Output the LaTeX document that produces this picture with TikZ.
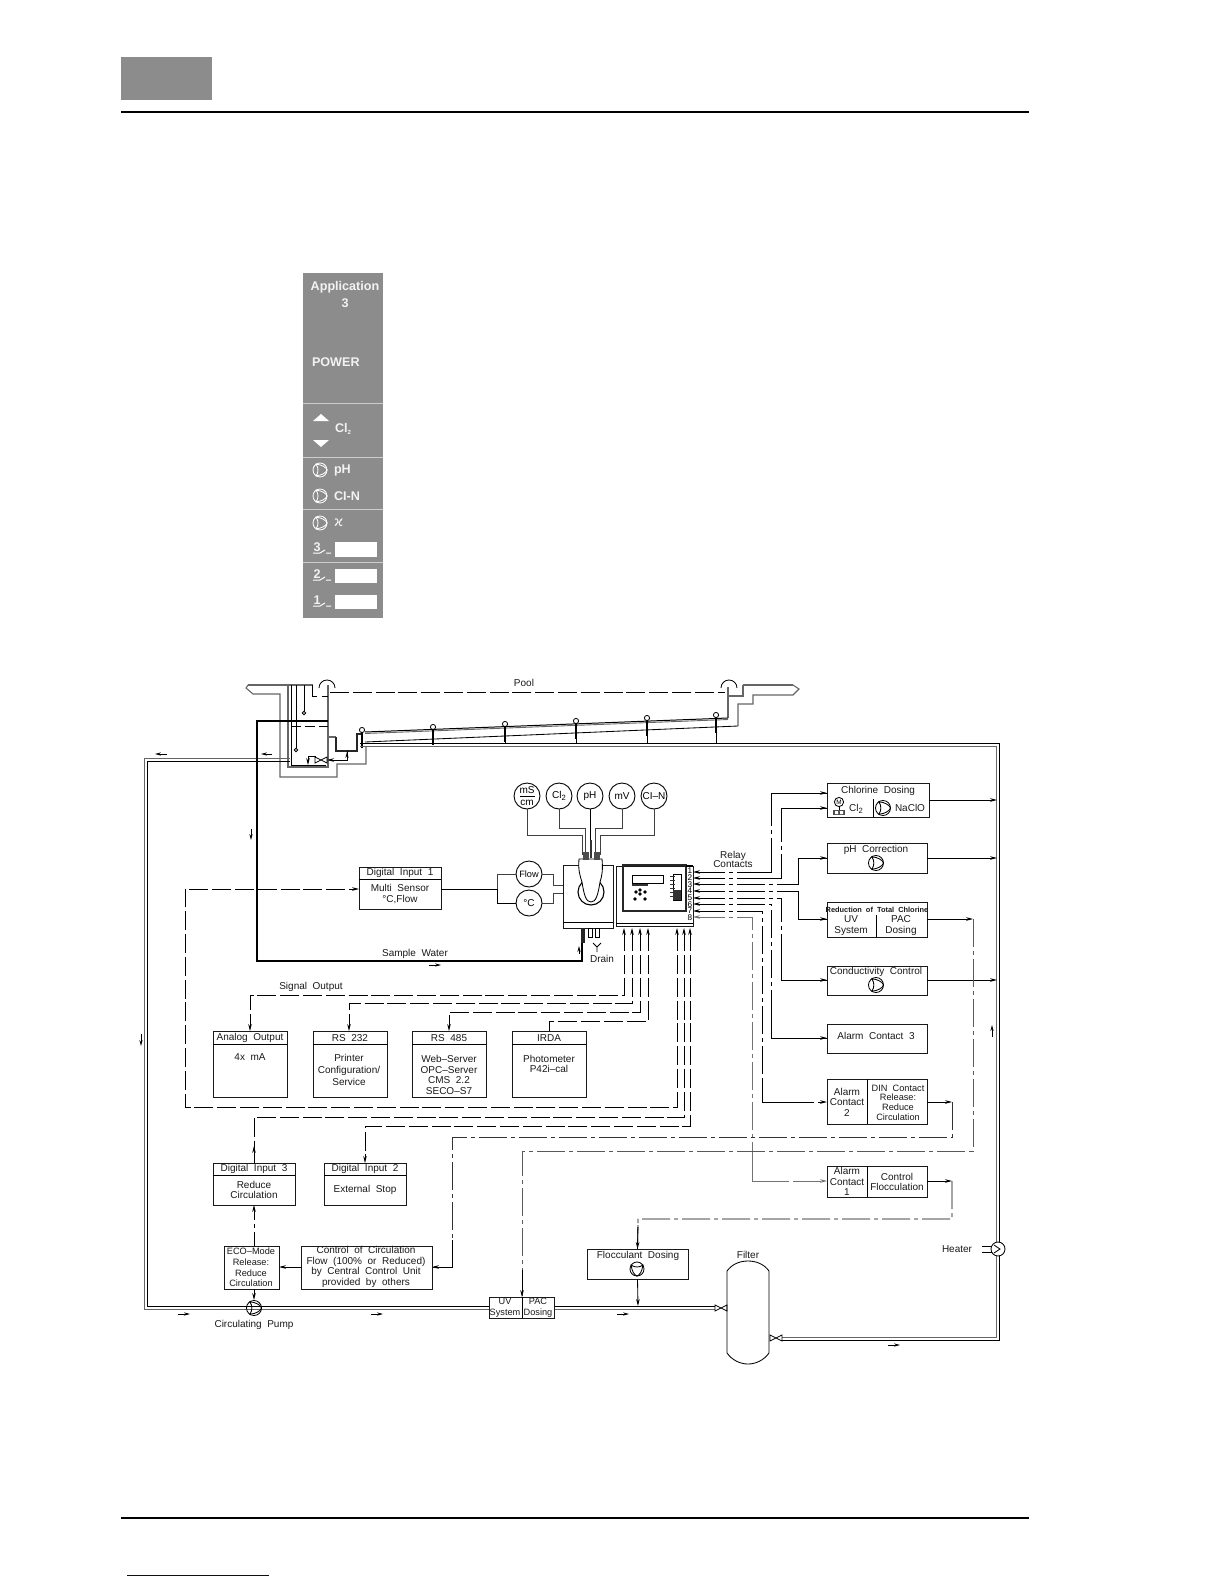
\documentclass[tikz,border=0pt]{standalone}
\usepackage{fontspec}
\setmainfont[WordSpace=2]{Liberation Sans}
\newfontfamily\plainsans{Liberation Sans}
\newfontfamily\symfont{DejaVu Sans}
\usetikzlibrary{arrows.meta}
\tikzset{
  x=0.5pt,y=-0.5pt,
  every node/.style={inner sep=0pt,outer sep=0pt},
  ln/.style={line width=0.42pt,black},
  boxst/.style={draw,line width=0.45pt,black!90},
  lab/.style={font=\fontsize{5}{5.3}\selectfont,align=center,text=black!90},
  smalllab/.style={lab,font=\fontsize{4.6}{5.3}\selectfont},
  panlab/.style={font=\plainsans\fontsize{6.3}{7}\selectfont\bfseries,text=white!95!black},
  tip/.style={-{Stealth[length=3.5pt,width=1.8pt]}},
  tips/.style={{Stealth[length=3.5pt,width=1.8pt]}-{Stealth[length=3.5pt,width=1.8pt]}},
  backtip/.style={{Stealth[length=3.5pt,width=1.8pt]}-},
  dsh/.style={ln,dash pattern=on 9.5pt off 1.9pt},
  dd/.style={ln,dash pattern=on 14pt off 2pt on 2pt off 2pt},
  dd2/.style={ln,dash pattern=on 7pt off 2pt on 2pt off 2pt},
  flow/.style={line width=0.4pt,-{Stealth[length=3pt,width=1.6pt]}},
  pipeA/.style={line width=0.5pt,black!60},
  pipeB/.style={line width=0.45pt,black},
  wall/.style={line width=0.55pt,black!60},
  thickln/.style={line width=1.25pt,black},
}
\newcommand{\bx}[5]{\node[boxst,minimum width={(#4-#2)*0.5pt},minimum height={(#5-#3)*0.5pt}] (#1) at ({(#2+#4)/2},{(#3+#5)/2}) {};}
\newcommand{\lb}[4]{\node[lab] (#1) at (#2,#3) {#4};}
% centre x, centre y, radius, rotation, colour
\newcommand{\pumpicon}[5]{\begin{scope}[shift={(#1,#2)},rotate=#4,#5,line width=0.42pt]
  \draw (0,0) circle[radius=#3];
  \draw ({-0.55*#3},{-0.83*#3}) .. controls ({0.3*#3},{-0.75*#3}) and ({0.85*#3},{-0.4*#3}) .. ({#3},0) .. controls ({0.85*#3},{0.4*#3}) and ({0.3*#3},{0.75*#3}) .. ({-0.55*#3},{0.83*#3}) .. controls ({-0.2*#3},{0.3*#3}) and ({-0.2*#3},{-0.3*#3}) .. cycle;
\end{scope}}
\newcommand{\sbowtie}[2]{\draw[line width=0.4pt] ({#1-6},{#2-3}) -- ({#1+6},{#2+3}) -- ({#1+6},{#2-3}) -- ({#1-6},{#2+3}) -- cycle;}
\begin{document}
\begin{tikzpicture}
\useasboundingbox (0,0) rectangle (1224,1584);
% page furniture
\fill[black!45] (121,57) rectangle (212,100);
\draw[line width=1pt] (121,112) -- (1029,112);
\draw[line width=1pt] (121,1518) -- (1029,1518);
\draw[line width=0.5pt,blue!50!black] (127,1575) -- (269,1575);
% front panel
\fill[black!45] (303,273) rectangle (383,618);
\foreach \yy in {403,457,509,562} \draw[white!80!black,line width=0.5pt] (303,\yy) -- (383,\yy);
\node[panlab] (pApp) at (345,287) {Application};
\node[panlab] (pThree) at (345,303) {3};
\node[panlab,anchor=west] (pPower) at (312,362) {POWER};
\fill[white] (313,421) -- (329,421) -- (321,414) -- cycle;
\fill[white] (313,440) -- (329,440) -- (321,447) -- cycle;
\node[panlab,anchor=west] (pCl) at (335,429) {Cl\raisebox{-1pt}{\fontsize{3}{3}\selectfont 2}};
\pumpicon{320}{470}{7}{0}{white}
\node[panlab,anchor=west] (pPh) at (334,470) {pH};
\pumpicon{320}{496}{7}{0}{white}
\node[panlab,anchor=west] (pCln) at (334,496) {CI-N};
\pumpicon{320}{523}{7}{0}{white}
\node[panlab,anchor=west,font=\symfont\fontsize{7}{7}\selectfont] (pKappa) at (334,523) {ϰ};
\foreach \nn/\yy in {3/547,2/574,1/600}{
  \node[panlab] (pN\nn) at (317,\yy) {\nn};
  \draw[white,line width=0.5pt] (313,{\yy+6}) -- (320,{\yy+6}) -- (325,{\yy+3}) (326,{\yy+6}) -- (331,{\yy+6});
}
\fill[white] (335,542) rectangle (377,557);
\fill[white] (335,569) rectangle (377,583);
\fill[white] (335,595) rectangle (377,609);
% --- pool structure
\draw[wall,line width=1pt] (248,685) -- (313,685);
\draw[wall] (248,685) -- (246,688) -- (253,694) -- (280,694) -- (280,777) -- (337,777) -- (337,764) -- (366,764) -- (366,746);
\draw[wall] (288,685) -- (288,767) -- (328,767) -- (328,685);
\draw[ln] (291,685) -- (291,765) -- (326,765);
\draw[ln] (312,685) -- (312,696) -- (317,696);
\draw[ln] (322,696) -- (328,696);
\draw[ln] (319,688) arc[start angle=180,end angle=360,radius=8];
\draw[ln] (721,688) arc[start angle=180,end angle=360,radius=8];
\coordinate (wL) at (330,692); \coordinate (wR) at (725,692);
\draw[dsh] (wL) -- (wR);
\lb{pool}{524}{683}{Pool}
\draw[ln,dash pattern=on 5pt off 2pt] (291,726) -- (328,726);
\draw[ln] (296,685) -- (296,748);
\draw[ln] (296,750) circle[radius=1.7];
\draw[ln] (304,685) -- (304,711);
\draw[ln] (304,713) circle[radius=1.7];
\sbowtie{321}{760}
\draw[ln] (316,756) -- (308,756);
\draw[ln,tip] (308,756) -- (308,765);
% pipe to the tank and to the valve
\draw[wall] (329,737) -- (336,737);
\draw[line width=0.7pt,black!85] (336,737) -- (336,751) -- (357,751) -- (357,734) -- (362,734);
\coordinate (vIn) at (327,760);
\draw[ln,tip] (347,751) -- (347,760) -- (vIn);
% right pool edge
\draw[wall,line width=0.8pt] (728,687) -- (728,718);
\draw[wall] (728,696) -- (743,696) -- (743,685);
\draw[wall,line width=1pt] (743,685) -- (793,685);
\draw[wall] (793,685) -- (799,689) -- (793,695) -- (753,695) -- (753,704) -- (738,704) -- (738,726);
% pool floor
\draw[line width=0.5pt,black] (365,732) -- (728,718);
\draw[ln] (365,742) -- (738,726);
\draw[wall,line width=0.45pt] (365,733.5) -- (728,719.5);
\foreach \xx/\yy in {362/730,433/727,505/724,576/721,647/718,716/715}{
  \draw[ln] (\xx,\yy) circle[radius=2.6];
  \draw[line width=1pt,black] (\xx,{\yy+3}) -- (\xx,{\yy+18});
  \draw[ln] (\xx,{\yy+15}) -- (\xx,744);
}
% main pipe
\coordinate (vOutA) at (782,1340.5); \coordinate (vOutB) at (782,1337);
\coordinate (tankA) at (290,758.5); \coordinate (tankB) at (290,761.5);
\draw[pipeB] (vOutA) -- (999.5,1340.5) -- (999.5,743.5) -- (360,743.5);
\draw[pipeA] (vOutB) -- (996.5,1337) -- (996.5,746.5) -- (360,746.5);
\draw[pipeA] (tankA) -- (144.5,758.5) -- (144.5,1309.5) -- (489,1309.5);
\draw[pipeB] (tankB) -- (147.5,761.5) -- (147.5,1306.5) -- (489,1306.5);
\draw[pipeA] (554,1309.5) -- (715,1309.5);
\draw[pipeB] (554,1306.5) -- (715,1306.5);
\sbowtie{721}{1308}
\sbowtie{776}{1338}
% filter
\draw[ln] (727,1271) .. controls (732,1264) and (740,1261) .. (748,1261) .. controls (756,1261) and (764,1264) .. (769,1271) -- (769,1353) .. controls (764,1360) and (756,1364) .. (748,1364) .. controls (740,1364) and (732,1360) .. (727,1353) -- cycle;
\lb{filterL}{748}{1255}{Filter}
% heater
\draw[ln,fill=white] (998,1249) circle[radius=7];
\draw[ln] (994,1245) -- (1000,1249) -- (994,1253);
\draw[ln] (982,1246) -- (992,1246) (982,1252) -- (992,1252);
\lb{heaterL}{957}{1249}{Heater}
% flow direction arrows
\draw[flow] (167,754) -- (155,754);
\draw[flow] (272,754) -- (261,754);
\draw[flow] (251,829) -- (251,840);
\draw[flow] (429,965) -- (441,965);
\draw[flow] (141,1034) -- (141,1046);
\draw[flow] (178,1314) -- (190,1314);
\draw[flow] (371,1314) -- (383,1314);
\draw[flow] (617,1314) -- (629,1314);
\draw[flow] (888,1345) -- (900,1345);
\draw[flow] (992,1037) -- (992,1025);
\draw[flow] (347,758) -- (347,752);
\draw[flow] (579,954) -- (579,946);
% sample water
\coordinate (sampleEnd) at (582,943);
\draw[thickln] (328,721) -- (257,721) -- (257,961) -- (582,961) -- (sampleEnd);
\lb{sampleL}{415}{954}{Sample Water}
% --- sensors
\foreach \nm/\xx/\tt in {sCl/559/Cl\raisebox{-0.8pt}{\fontsize{3.8}{4}\selectfont 2},spH/590/pH,smV/622/mV,sClN/654/CI--N}{
  \node[draw,circle,line width=0.45pt,minimum size=13pt,font=\fontsize{5}{5.3}\selectfont] (\nm) at (\xx,796) {\tt};
}
\node[draw,circle,line width=0.45pt,minimum size=13pt,align=center,font=\fontsize{5}{4.6}\selectfont] (smS) at (527,796) {\underline{mS}\\cm};
\node[draw,circle,line width=0.45pt,minimum size=13pt,font=\fontsize{4.6}{5.3}\selectfont] (sFlow) at (529,874) {Flow};
\node[draw,circle,line width=0.45pt,minimum size=13pt,font=\fontsize{5}{5.3}\selectfont] (sDeg) at (529,903) {°C};
\draw[ln,black!75] (smS.south) -- (527,835) -- (582,835) -- (582,855);
\draw[ln,black!75] (sCl.south) -- (559,828) -- (585,828) -- (585,855);
\draw[ln] (spH.south) -- (590,842);
\draw[ln,black!75] (smV.south) -- (622,828) -- (595,828) -- (595,855);
\draw[ln,black!75] (sClN.south) -- (654,835) -- (600,835) -- (600,855);
% sensor housing
\bx{probe}{563}{865}{613}{928}
\draw[ln] (563,922) -- (613,922);
\draw[line width=0.55pt] (591,892) circle[radius=13];
\draw[ln,fill=white] (579,859) -- (602,859) .. controls (603,870) and (602,876) .. (600,882) .. controls (598,895) and (596,902) .. (591,902) .. controls (586,902) and (584,895) .. (582,882) .. controls (580,876) and (578,870) .. (579,859) -- cycle;
\draw[line width=1.4pt,black!80] (591,840) -- (591,858);
\fill[black!70] (583,852) rectangle (589,860);
\fill[black!70] (594,852) rectangle (600,860);
\draw[line width=1.6pt,black!85] (583,928) -- (583,943);
\draw[ln] (588,928) rectangle (592,937);
\draw[ln] (595,928) rectangle (599,937);
\draw[ln] (597,952) -- (597,947) (593,943) -- (597,947) -- (601,943);
\lb{drainL}{602}{959}{Drain}
% controller
\bx{ctrl}{616}{866}{693}{926}
\draw[ln] (616,923) -- (693,923);
\draw[line width=1pt,black!85] (623,865) rectangle (686,911);
\draw[ln] (632,875) rectangle (663,883);
\draw[line width=1pt,black!80] (632,885) -- (648,885);
\foreach \xx/\yy in {640/890,636/892,645/892,640/894,635/899,645/899} \fill (\xx,\yy) circle[radius=1.9];
\draw[ln] (673,874) rectangle (681,900);
\fill[black!80] (673,890) rectangle (681,900);
\foreach \yy in {876,880,884,888,892,896} \fill[black!80] (670,\yy) rectangle (675,{\yy+1});
\foreach \nn/\yy in {1/871,2/877.7,3/884.4,4/891,5/897.8,6/904.4,7/911,8/917.6}{
  \node[font=\fontsize{4.1}{4}\selectfont] (tn\nn) at (690,\yy) {\nn};
}
\draw[line width=0.9pt] (686,866) -- (693,866);
% relay terminals and signal terminals
\coordinate (r1) at (693,872); \coordinate (r2) at (693,878); \coordinate (r3) at (693,884); \coordinate (r4) at (693,891);
\coordinate (r5) at (693,898); \coordinate (r6) at (693,904); \coordinate (r7) at (693,911); \coordinate (r8) at (693,917);
\coordinate (t1) at (624,928); \coordinate (t2) at (632,928); \coordinate (t3) at (640,928); \coordinate (t4) at (648,928);
\coordinate (t5) at (677,928); \coordinate (t6) at (684,928); \coordinate (t7) at (690,928);
\lb{relayL}{733}{859.5}{Relay\\[-0.8pt]Contacts}
% right boxes
\bx{chlor}{827}{783}{929}{817}
\draw[ln] (873,799) -- (873,817);
\lb{chlorT}{878}{791}{Chlorine Dosing}
\draw[ln] (839,802) circle[radius=4.6];
\node[font=\fontsize{3.2}{3}\selectfont] (motorM) at (839,802) {M};
\fill[black!70] (833,810) rectangle (845,815);
\fill[white] (835,811) rectangle (838,814) (840,811) rectangle (843,814);
\draw[ln] (839,807) -- (839,810);
\lb{chlorCl}{856}{809}{Cl\raisebox{-0.8pt}{\fontsize{3.8}{4}\selectfont 2}}
\pumpicon{883}{808}{7.5}{0}{black}
\lb{chlorNa}{910}{808}{NaClO}
\bx{phc}{827}{843}{927}{873}
\lb{phcT}{876}{850}{pH Correction}
\pumpicon{876}{863}{7.5}{0}{black}
\bx{red}{827}{902}{927}{937}
\draw[ln] (876,915) -- (876,937);
\node[font=\fontsize{3.7}{5}\selectfont\bfseries,text=black!90] (redT) at (877,910) {Reduction of Total Chlorine};
\lb{redUV}{851}{925.5}{UV\\[0.2pt]System}
\lb{redPAC}{901}{925.5}{PAC\\[0.2pt]Dosing}
\bx{cond}{827}{966}{927}{995}
\lb{condT}{876}{972}{Conductivity Control}
\pumpicon{876}{985}{7.5}{0}{black}
\bx{al3}{827}{1024}{927}{1053}
\lb{al3T}{876}{1036}{Alarm Contact 3}
\bx{al2}{827}{1079}{927}{1124}
\draw[ln] (867,1079) -- (867,1124);
\lb{al2T}{847}{1102}{Alarm\\Contact\\2}
\node[smalllab] (dinT) at (898,1102.5) {DIN Contact\\[-0.5pt]Release:\\[-0.5pt]Reduce\\[-0.5pt]Circulation};
\bx{al1}{827}{1166}{927}{1197}
\draw[ln] (867,1166) -- (867,1197);
\lb{al1T}{847}{1181.5}{Alarm\\Contact\\1}
\lb{ctlF}{897}{1182}{Control\\Flocculation}
\bx{floc}{587}{1249}{688}{1279}
\lb{flocT}{638}{1256}{Flocculant Dosing}
\pumpicon{637}{1269}{7}{-90}{black}
% relay connectors
\coordinate (c1) at (827,793); \coordinate (c2) at (827,808); \coordinate (c3) at (827,858); \coordinate (c4) at (827,919);
\coordinate (c5) at (827,980); \coordinate (c6) at (827,1038); \coordinate (c7) at (827,1102); \coordinate (c8) at (827,1181);
\draw[dd,tips] (r1) -- (771,872) -- (771,793) -- (c1);
\draw[dd,tips] (r2) -- (781,878) -- (781,808) -- (c2);
\draw[dd,tips] (r3) -- (798,884) -- (798,858) -- (c3);
\draw[dd,tips] (r4) -- (798,891) -- (798,919) -- (c4);
\draw[dd,tips] (r5) -- (781,898) -- (781,980) -- (c5);
\draw[dd,tips] (r6) -- (771,904) -- (771,1038) -- (c6);
\draw[dd,tips] (r7) -- (762,911) -- (762,1102) -- (c7);
\draw[dd,tips,black!55] (r8) -- (752,917) -- (752,1181) -- (c8);
% solid runs near the corners of the relay connectors
\draw[ln] (745,872) -- (771,872) -- (771,855) (771,820) -- (771,793) -- (827,793);
\draw[ln] (750,878) -- (781,878) -- (781,860) (781,825) -- (781,808) -- (827,808);
\draw[ln] (798,884) -- (798,858) -- (827,858);
\draw[ln] (798,891) -- (798,919) -- (827,919);
\draw[ln] (781,950) -- (781,980) -- (827,980);
\draw[ln] (771,1010) -- (771,1038) -- (827,1038);
\draw[ln] (762,1080) -- (762,1102) -- (790,1102);
\draw[ln,black!55] (752,1160) -- (752,1181) -- (785,1181);
% outputs into the main pipe
\coordinate (m1) at (997,800); \coordinate (m2) at (997,858); \coordinate (m3) at (997,980);
\draw[ln,tip] (chlor.east |- m1) -- (m1);
\draw[ln,tip] (phc.east |- m2) -- (m2);
\draw[ln,tip] (cond.east |- m3) -- (m3);
% outputs to the lower lines
\coordinate (uvBoxTop) at (522,1297);
\coordinate (ctlIn) at (432,1267);
\draw[ln,tip] (927,919) -- (973,919);
\draw[dd,black!65] (973,919) -- (973,1151) -- (522,1151) -- (uvBoxTop);
\draw[ln,tip] (927,1102) -- (952,1102);
\draw[dd,black!80] (952,1102) -- (952,1137) -- (452,1137) -- (452,1267) -- (ctlIn);
\draw[ln,tip] (452,1240) -- (452,1267) -- (ctlIn);
\draw[ln,tip] (522,1270) -- (uvBoxTop);
\draw[ln,tip] (927,1181) -- (952,1181);
\draw[dd] (952,1181) -- (952,1219) -- (638,1219) -- (floc.north);
\draw[ln,tip] (638,1225) -- (floc.north);
\draw[ln,tip] (floc.south) -- (638,1306);
% communication boxes
\bx{ao}{213}{1031}{287}{1097}
\draw[ln] (213,1044) -- (287,1044);
\lb{aoT}{250}{1038}{Analog Output}
\lb{aoB}{250}{1057}{4x mA}
\bx{rsa}{313}{1031}{387}{1097}
\draw[ln] (313,1044) -- (387,1044);
\lb{rsaT}{350}{1038}{RS 232}
\lb{rsaB}{349}{1070}{Printer\\[0.5pt]Configuration/\\[0.5pt]Service}
\bx{rsb}{412}{1031}{486}{1097}
\draw[ln] (412,1044) -- (486,1044);
\lb{rsbT}{449}{1038}{RS 485}
\lb{rsbB}{449}{1075}{Web--Server\\OPC--Server\\CMS 2.2\\SECO--S7}
\bx{ir}{512}{1031}{586}{1097}
\draw[ln] (512,1044) -- (586,1044);
\lb{irT}{549}{1038}{IRDA}
\lb{irB}{549}{1064}{Photometer\\P42i--cal}
\lb{sigL}{311}{987}{Signal Output}
\draw[dsh,tips] (t1) -- (624,995) -- (250,995) -- (ao.north);
\draw[dsh,tips] (t2) -- (632,1003) -- (349,1003) -- (349,1031);
\draw[dsh,tips] (t3) -- (640,1012) -- (449,1012) -- (449,1031);
\draw[dsh,backtip] (t4) -- (648,1021) -- (549,1021) -- (549,1031);
% digital inputs
\bx{di1}{359}{867}{441}{909}
\draw[ln] (359,879) -- (441,879);
\lb{di1T}{400}{873}{Digital Input 1}
\lb{di1B}{400}{894}{Multi Sensor\\°C,Flow}
\draw[ln] (441,889) -- (497,889);
\draw[ln,black!75] (497,889) -- (497,874) -- (sFlow.west);
\draw[ln] (497,889) -- (497,903) -- (sDeg.west);
\draw[ln,black!75] (sFlow.east) -- (553,874) -- (553,885) -- (563,885);
\draw[ln,black!75] (sDeg.east) -- (553,903) -- (553,893) -- (563,893);
\bx{di3}{213}{1163}{295}{1205}
\draw[ln] (213,1175) -- (295,1175);
\lb{di3T}{254}{1169}{Digital Input 3}
\lb{di3B}{254}{1190}{Reduce\\Circulation}
\bx{di2}{324}{1163}{406}{1205}
\draw[ln] (324,1175) -- (406,1175);
\lb{di2T}{365}{1169}{Digital Input 2}
\lb{di2B}{365}{1190}{External Stop}
\coordinate (di1In) at (359,889);
\draw[dsh,tips] (t5) -- (677,1107) -- (185,1107) -- (185,889) -- (di1In);
\draw[dsh,backtip] (t6) -- (684,1117) -- (254,1117) -- (254,1163);
\draw[ln,tip] (254,1163) -- (254,1146);
\draw[dsh,tips] (t7) -- (690,1126) -- (365,1126) -- (365,1163);
% eco and circulation
\bx{eco}{224}{1246}{279}{1289}
\node[smalllab] (ecoT) at (251,1267.5) {ECO--Mode\\Release:\\Reduce\\Circulation};
\bx{ccf}{301}{1246}{432}{1289}
\lb{ccfT}{366}{1267}{Control of Circulation\\Flow (100\% or Reduced)\\by Central Control Unit\\provided by others}
\coordinate (ecoL) at (279,1267); \coordinate (di3Foot) at (254,1205); \coordinate (ecoTop) at (254,1246); \coordinate (ecoFoot) at (254,1289);
\draw[ln,tip] (301,1267) -- (ecoL);
\draw[dd2,tip] (ecoTop) -- (di3Foot);
\pumpicon{254}{1308}{7.5}{0}{black}
\coordinate (pumpTop) at (254,1300);
\draw[ln,tip] (ecoFoot) -- (pumpTop);
\lb{circL}{254}{1325}{Circulating Pump}
\bx{uv}{489}{1297}{554}{1318}
\draw[ln] (522,1297) -- (522,1318);
\node[smalllab] (uvT) at (505,1307.5) {UV\\System};
\node[smalllab] (pacT) at (538,1307.5) {PAC\\Dosing};
\end{tikzpicture}
\end{document}
